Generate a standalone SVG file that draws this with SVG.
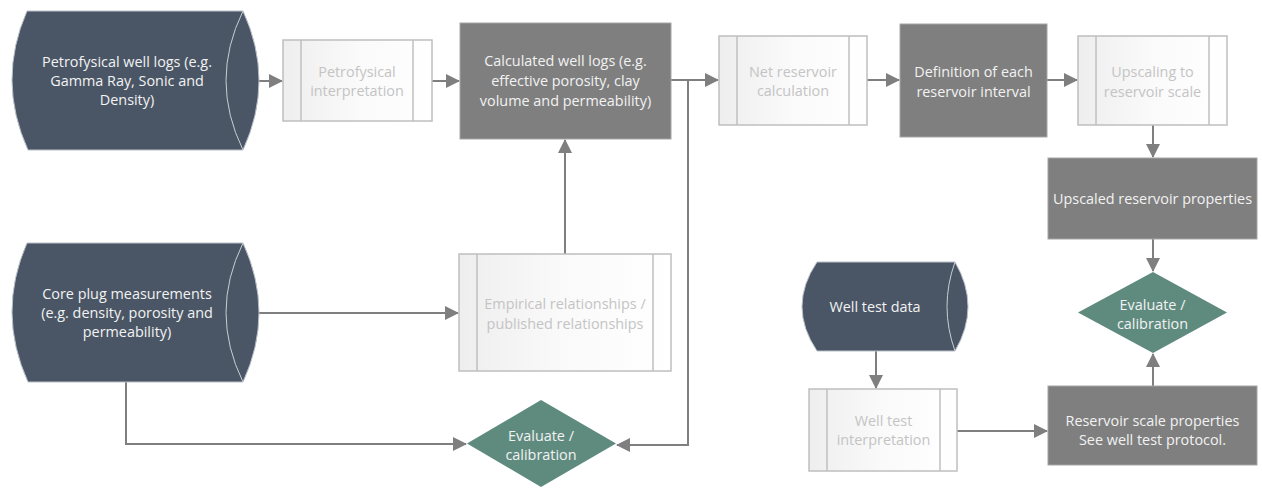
<svg xmlns="http://www.w3.org/2000/svg" width="1262" height="488" viewBox="0 0 1262 488">
<style>
.data{fill:#4a5666;stroke:#b9c0c8;stroke-width:1}
.inner{fill:none;stroke:#c9ced4;stroke-width:1}
.proc{fill:url(#pg);stroke:#bfbfbf;stroke-width:1.5}
.pl{stroke:#bfbfbf;stroke-width:1.5}
.res{fill:#7f7f7f;stroke:#a6a6a6;stroke-width:1}
.dec{fill:#5f8b7f}
.t{font-family:"Open Sans","Liberation Sans",sans-serif;font-size:14.4px;text-anchor:middle}
.tw{fill:#f2f2f2}
.tg{fill:#c4c4c4}
.c{fill:none;stroke:#7f7f7f;stroke-width:2}
</style>
<defs>
<linearGradient id="pg" x1="0" y1="0" x2="1" y2="0">
<stop offset="0" stop-color="#eeeeee"/>
<stop offset="0.5" stop-color="#fafafa"/>
<stop offset="1" stop-color="#ffffff"/>
</linearGradient>
<marker id="a" markerUnits="userSpaceOnUse" markerWidth="14" markerHeight="14" refX="13" refY="7" orient="auto">
<path d="M0,0 L14,7 L0,14 Z" fill="#7f7f7f"/>
</marker>
</defs>
<g id="connectors">
<path class="c" d="M259,81 L282,81" marker-end="url(#a)"/>
<path class="c" d="M432,81 L459,81" marker-end="url(#a)"/>
<path class="c" d="M671,80 L718,80" marker-end="url(#a)"/>
<path class="c" d="M688,80 L688,445 L617,445" marker-end="url(#a)"/>
<path class="c" d="M867,80 L899,80" marker-end="url(#a)"/>
<path class="c" d="M1047,80 L1077,80" marker-end="url(#a)"/>
<path class="c" d="M1153,125 L1153,157" marker-end="url(#a)"/>
<path class="c" d="M1153,239 L1153,271" marker-end="url(#a)"/>
<path class="c" d="M1153,386 L1153,354" marker-end="url(#a)"/>
<path class="c" d="M259,313 L458,313" marker-end="url(#a)"/>
<path class="c" d="M565,254 L565,140" marker-end="url(#a)"/>
<path class="c" d="M126,382 L126,444 L466,444" marker-end="url(#a)"/>
<path class="c" d="M876,351 L876,388" marker-end="url(#a)"/>
<path class="c" d="M957,431 L1047,431" marker-end="url(#a)"/>
</g>
<g id="n-petro-logs">
<path class="data" d="M27,11 L243,11 Q275,80.5 243,150 L28,150 Q-3.5,80.5 27,11 Z"/>
<path class="inner" d="M243,11 Q209,80.5 243,150"/>
<text class="t tw" x="127" y="67">Petrofysical well logs (e.g.</text>
<text class="t tw" x="127" y="86">Gamma Ray, Sonic and</text>
<text class="t tw" x="127" y="105">Density)</text>
</g>
<g id="n-petro-interp">
<rect class="proc" x="283" y="40" width="149" height="81"/>
<line class="pl" x1="301" y1="40" x2="301" y2="121"/>
<line class="pl" x1="413" y1="40" x2="413" y2="121"/>
<text class="t tg" x="357" y="77">Petrofysical</text>
<text class="t tg" x="357" y="96">interpretation</text>
</g>
<g id="n-calc-logs">
<rect class="res" x="460" y="23" width="211" height="116"/>
<text class="t tw" x="565.5" y="66">Calculated well logs (e.g.</text>
<text class="t tw" x="565.5" y="86">effective porosity, clay</text>
<text class="t tw" x="565.5" y="106">volume and permeability)</text>
</g>
<g id="n-net">
<rect class="proc" x="719" y="36" width="148" height="89"/>
<line class="pl" x1="737" y1="36" x2="737" y2="125"/>
<line class="pl" x1="849" y1="36" x2="849" y2="125"/>
<text class="t tg" x="793" y="77">Net reservoir</text>
<text class="t tg" x="793" y="96">calculation</text>
</g>
<g id="n-def">
<rect class="res" x="900" y="24" width="147" height="113"/>
<text class="t tw" x="973.5" y="77">Definition of each</text>
<text class="t tw" x="973.5" y="97">reservoir interval</text>
</g>
<g id="n-upscaling">
<rect class="proc" x="1078" y="36" width="149" height="89"/>
<line class="pl" x1="1096" y1="36" x2="1096" y2="125"/>
<line class="pl" x1="1209" y1="36" x2="1209" y2="125"/>
<text class="t tg" x="1152.5" y="77">Upscaling to</text>
<text class="t tg" x="1152.5" y="97">reservoir scale</text>
</g>
<g id="n-upscaled">
<rect class="res" x="1048" y="158" width="209" height="81"/>
<text class="t tw" x="1152.5" y="204">Upscaled reservoir properties</text>
</g>
<g id="n-eval-right">
<path class="dec" d="M1153,272 L1227,312.5 L1153,353 L1078,312.5 Z"/>
<text class="t tw" x="1152.5" y="310">Evaluate /</text>
<text class="t tw" x="1152.5" y="329">calibration</text>
</g>
<g id="n-res-scale">
<rect class="res" x="1048" y="386" width="209" height="79"/>
<text class="t tw" x="1152.5" y="426">Reservoir scale properties</text>
<text class="t tw" x="1152.5" y="445">See well test protocol.</text>
</g>
<g id="n-welltest">
<path class="data" d="M817,262 L955,262 Q981,306.5 955,351 L817,351 Q787,306.5 817,262 Z"/>
<path class="inner" d="M955,262 Q939,306.5 955,351"/>
<text class="t tw" x="875" y="312">Well test data</text>
</g>
<g id="n-welltest-interp">
<rect class="proc" x="809" y="389" width="148" height="82"/>
<line class="pl" x1="827" y1="389" x2="827" y2="471"/>
<line class="pl" x1="940" y1="389" x2="940" y2="471"/>
<text class="t tg" x="883.5" y="426">Well test</text>
<text class="t tg" x="883.5" y="445">interpretation</text>
</g>
<g id="n-core">
<path class="data" d="M27,243 L243,243 Q275,312.5 243,382 L28,382 Q-3.5,312.5 27,243 Z"/>
<path class="inner" d="M243,243 Q209,312.5 243,382"/>
<text class="t tw" x="127" y="299">Core plug measurements</text>
<text class="t tw" x="127" y="318">(e.g. density, porosity and</text>
<text class="t tw" x="127" y="337">permeability)</text>
</g>
<g id="n-empirical">
<rect class="proc" x="459" y="254" width="212" height="117"/>
<line class="pl" x1="477" y1="254" x2="477" y2="371"/>
<line class="pl" x1="653" y1="254" x2="653" y2="371"/>
<text class="t tg" x="565" y="309">Empirical relationships /</text>
<text class="t tg" x="565" y="329">published relationships</text>
</g>
<g id="n-eval-left">
<path class="dec" d="M541,400 L616,443.5 L541,487 L467,443.5 Z"/>
<text class="t tw" x="541" y="441">Evaluate /</text>
<text class="t tw" x="541" y="460">calibration</text>
</g>
</svg>
